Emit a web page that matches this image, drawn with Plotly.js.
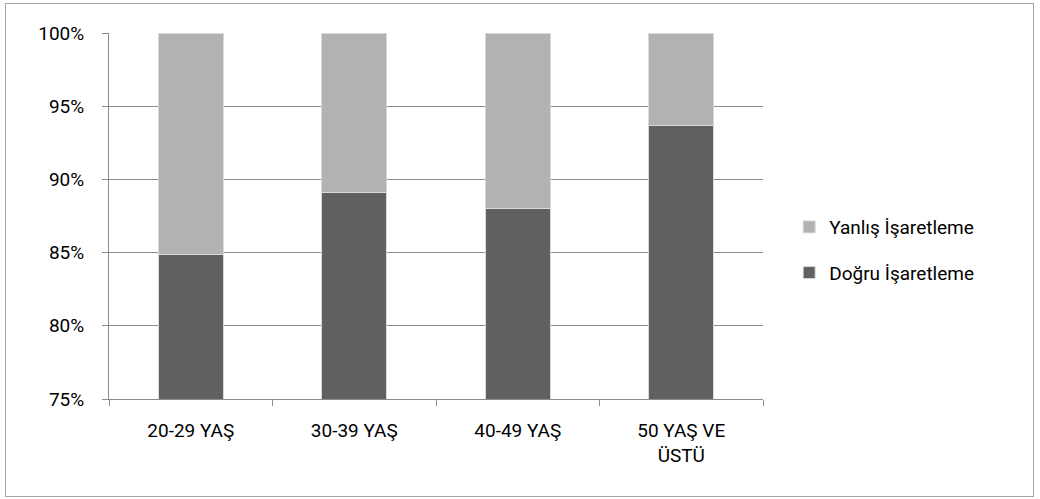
<!DOCTYPE html>
<html>
<head>
<meta charset="utf-8">
<script src="https://cdn.plot.ly/plotly-3.0.1.min.js"></script>
<style>
html,body{margin:0;padding:0;background:#fff;}
#wrap{position:relative;width:1040px;height:499px;}
#frame{position:absolute;left:5px;top:3px;width:1029px;height:494px;border:1px solid #a6a6a6;box-sizing:border-box;pointer-events:none;}
#chart{position:absolute;left:0;top:0;width:1040px;height:499px;}
</style>
</head>
<body>
<div id="wrap"><div id="chart"></div><div id="frame"></div></div>
<script>
const categories = ["20-29 YAŞ", "30-39 YAŞ", "40-49 YAŞ", "50 YAŞ VE<br>ÜSTÜ"];
const dogru = [0.849, 0.891, 0.880, 0.937];
const yanlis = [0.151, 0.109, 0.120, 0.063];
const seriesNames = ["Doğru İşaretleme", "Yanlış İşaretleme"];
const yTicks = [0.75, 0.80, 0.85, 0.90, 0.95, 1.00];
const yTickLabels = ["75%", "80%", "85%", "90%", "95%", "100%"];

const font = {family: "Roboto, 'Noto Sans', sans-serif", size: 19, color: "#000"};

const traces = [
  {type: "bar", name: seriesNames[0], x: categories, y: dogru, legendgroup: "a", legendrank: 2,
   marker: {color: "#606060", line: {color: "#d9d9d9", width: 1}}},
  {type: "bar", name: seriesNames[1], x: categories, y: yanlis, legendgroup: "b", legendrank: 1,
   marker: {color: "#b2b2b2", line: {color: "#d9d9d9", width: 1}}}
];

const layout = {
  width: 1040, height: 499,
  margin: {l: 109, r: 277, t: 33, b: 100},
  barmode: "stack",
  bargap: 0.6,
  paper_bgcolor: "#fff", plot_bgcolor: "#fff",
  font: font,
  showlegend: true,
  legend: {x: 1.04, y: 0.407, xanchor: "left", yanchor: "middle",
           traceorder: "grouped", tracegroupgap: 18, font: font},
  xaxis: {type: "category", tickson: "boundaries", ticks: "outside", ticklen: 6,
          tickcolor: "#8c8c8c", showline: true, linecolor: "#8c8c8c", linewidth: 1,
          showgrid: false, tickfont: font, ticklabelstandoff: 14},
  yaxis: {range: [0.75, 1.0], tickvals: yTicks, ticktext: yTickLabels,
          ticks: "outside", ticklen: 6, tickcolor: "#8c8c8c",
          showline: true, linecolor: "#8c8c8c", linewidth: 1,
          showgrid: true, gridcolor: "#8c8c8c", gridwidth: 1, zeroline: false,
          tickfont: font, ticklabelstandoff: 14}
};

Plotly.newPlot("chart", traces, layout, {displayModeBar: false, staticPlot: true});
</script>
</body>
</html>
